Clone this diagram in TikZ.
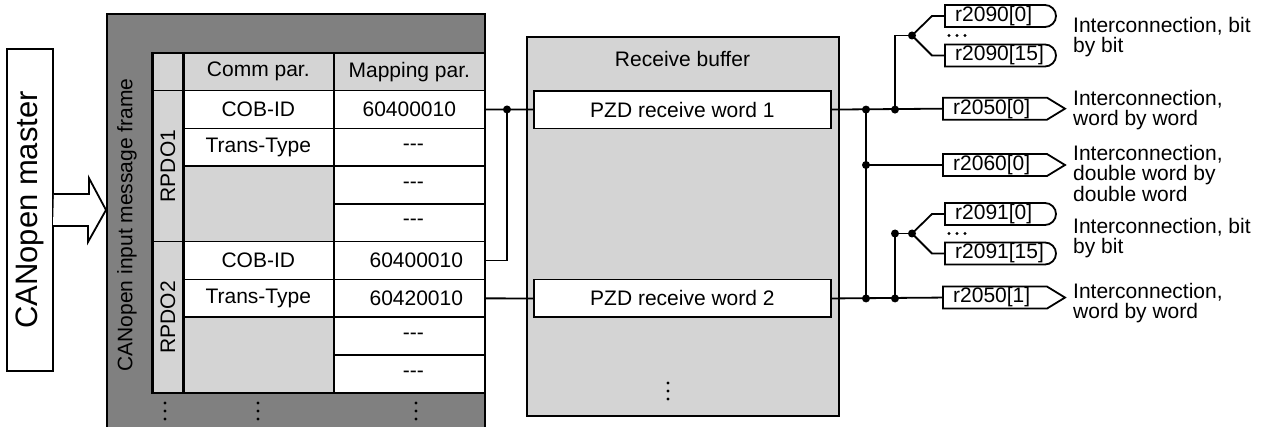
\documentclass[tikz,border=0pt]{standalone}
\usepackage{fontspec}
\setmainfont{Liberation Sans}
\usetikzlibrary{calc}
\definecolor{dark}{RGB}{128,128,128}
\definecolor{light}{RGB}{212,212,212}
\begin{document}
\begin{tikzpicture}[x=1pt,y=-1pt,
  font=\fontsize{21}{20.5}\selectfont,
  outline/.style={draw=black,line width=1.8pt},
  wire/.style={draw=black,line width=1.8pt},
  cell/.style={draw=black,line width=1.6pt,minimum width=151pt,minimum height=37.78pt,inner sep=0pt,anchor=north west},
  sig/.style={anchor=west,inner xsep=10pt,inner ysep=0pt},
  lbl/.style={anchor=north west,inner sep=0pt,align=left},
  jdot/.style={fill=black}
]
\useasboundingbox (0,0) rectangle (1267,427);

% CANopen master
\node[outline,fill=white,rotate=90,minimum width=322pt,minimum height=46pt,inner sep=0pt,
      font=\fontsize{31}{31}\selectfont] (master) at (30,210) {CANopen master};

% frame
\node[draw=black,line width=1.6pt,fill=dark,minimum width=378pt,minimum height=430pt,
      anchor=north west,inner sep=0pt] (frame) at (106,13) {};
\node[rotate=90] (framel) at (127,225) {CANopen input message frame};

% hollow arrow
\draw[outline,fill=white,line join=miter] (master.south) ++(0,-16) -- ++(35,0) -- ++(0,-16)
  -- (frame.west |- master.center) -- ++(-18,32) -- ++(0,-16) -- ++(-35,0);

% table
\node[cell,minimum width=30pt,fill=light] (h0) at (152,52) {};
\node[cell,fill=light] (hc) at (182,52) {Comm par.};
\node[cell,fill=light] (hm) at (333,52) {Mapping par.};
\node[cell,minimum width=30pt,minimum height=151.11pt,fill=light] (p1) at (152,89.78) {};
\node[cell,minimum width=30pt,minimum height=151.11pt,fill=light] (p2) at (152,240.89) {};
\node[rotate=90] (p1t) at (p1.center) {RPDO1};
\node[rotate=90] (p2t) at (p2.center) {RPDO2};
\node[cell,fill=white] (c1) at (182,89.78) {COB-ID};
\node[cell,fill=white] (c2) at (182,127.56) {Trans-Type};
\node[cell,fill=light,minimum height=75.56pt] (c3) at (182,165.33) {};
\node[cell,fill=white] (c5) at (182,240.89) {COB-ID};
\node[cell,fill=white] (c6) at (182,278.67) {Trans-Type};
\node[cell,fill=light,minimum height=75.56pt] (c7) at (182,316.44) {};
\node[cell,fill=white] (m1) at (333,89.78) {60400010};
\node[cell,fill=white] (m2) at (333,127.56) {\hspace{8pt}{-}{-}{-}};
\node[cell,fill=white] (m3) at (333,165.33) {\hspace{8pt}{-}{-}{-}};
\node[cell,fill=white] (m4) at (333,203.11) {\hspace{8pt}{-}{-}{-}};
\node[cell,fill=white] (m5) at (333,240.89) {\hspace{14pt}60400010};
\node[cell,fill=white] (m6) at (333,278.67) {\hspace{14pt}60420010};
\node[cell,fill=white] (m7) at (333,316.44) {\hspace{8pt}{-}{-}{-}};
\node[cell,fill=white] (m8) at (333,354.22) {\hspace{8pt}{-}{-}{-}};
\draw[line width=2.6pt] (h0.north east) -- (p2.south east);
\draw[line width=2pt] (h0.north west) -- (p2.south west);

% vertical ellipses under the table
\foreach \xx in {165,258,416}{
  \foreach \yy in {403,411,419}{\fill (\xx,\yy) circle[radius=1.7pt];}}

% receive buffer
\node[outline,fill=light,minimum width=312pt,minimum height=379pt,anchor=north west,inner sep=0pt] (buf) at (526,36) {};
\node (buft) at (682.5,59) {Receive buffer};
\node[outline,fill=white,minimum width=297pt,minimum height=37.78pt,anchor=north west,inner sep=0pt] (pzd1) at (533,89.78) {PZD receive word 1};
\node[outline,fill=white,minimum width=297pt,minimum height=37.78pt,anchor=north west,inner sep=0pt] (pzd2) at (533,278.67) {PZD receive word 2};
\foreach \yy in {383,391,399}{\fill (668,\yy) circle[radius=1.7pt];}

% signal boxes
\node[sig] (s2090a) at (945,16) {r2090[0]};
\node[sig] (s2090b) at (945,55.5) {r2090[15]};
\node[sig] (s2050a) at (943,108.67) {r2050[0]};
\node[sig] (s2060) at (943,165) {r2060[0]};
\node[sig] (s2091a) at (945,214) {r2091[0]};
\node[sig] (s2091b) at (945,253.5) {r2091[15]};
\node[sig] (s2050b) at (943,297.56) {r2050[1]};
\foreach \n in {s2090a,s2090b,s2091a,s2091b}{
  \draw[outline] (\n.west) ++(0,-11) -- ++(100,0) arc[start angle=90,end angle=-90,radius=11pt] -- ++(-100,0) -- cycle;}
\foreach \n in {s2050a,s2060,s2050b}{
  \draw[outline,line join=miter] (\n.west) ++(0,-11) -- ++(104,0) -- ++(18,11) -- ++(-18,11) -- ++(-104,0) -- cycle;}
\foreach \yy in {35.5,233.5}{
  \foreach \xx in {949,957,965}{\fill (\xx,\yy) circle[radius=1.6pt];}}

% left wiring
\coordinate (j1) at (507,0 |- m1.east);
\draw[wire] (m1.east) -- (pzd1.west);
\draw[wire] (m5.east) -| (j1);
\draw[wire] (m6.east) -- (pzd2.west);
\fill (j1) circle[radius=4pt];

% right wiring
\coordinate (j2) at (866,0 |- pzd1.east);
\coordinate (j3) at (895,0 |- pzd1.east);
\coordinate (j4) at (866,0 |- s2060.west);
\coordinate (j5) at (866,0 |- pzd2.east);
\coordinate (j6) at (895,0 |- pzd2.east);
\coordinate (j9) at (912,35.5);
\coordinate (j7) at (895,233.5);
\coordinate (j8) at (912,233.5);
\draw[wire] (pzd1.east) -- (s2050a.west);
\draw[wire] (pzd2.east) -- (s2050b.west);
\draw[wire] (j2) -- (j5);
\draw[wire] (j4) -- (s2060.west);
\draw[wire] (j3) |- (j9);
\draw[wire] (j6) -- (j7) -- (j8);
\draw[wire] (j9) -- (932,0 |- s2090a.west) -- (s2090a.west);
\draw[wire] (j9) -- (932,0 |- s2090b.west) -- (s2090b.west);
\draw[wire] (j8) -- (932,0 |- s2091a.west) -- (s2091a.west);
\draw[wire] (j8) -- (932,0 |- s2091b.west) -- (s2091b.west);
\foreach \j in {j2,j3,j4,j5,j6,j7,j8,j9}{\fill (\j) circle[radius=4pt];}

% labels
\node[lbl] (l1) at (1073,17) {Interconnection, bit\\by bit};
\node[lbl] (l2) at (1073,90) {Interconnection,\\word by word};
\node[lbl] (l3) at (1073,145) {Interconnection,\\double word by\\double word};
\node[lbl] (l4) at (1073,218) {Interconnection, bit\\by bit};
\node[lbl] (l5) at (1073,283) {Interconnection,\\word by word};
\end{tikzpicture}
\end{document}
